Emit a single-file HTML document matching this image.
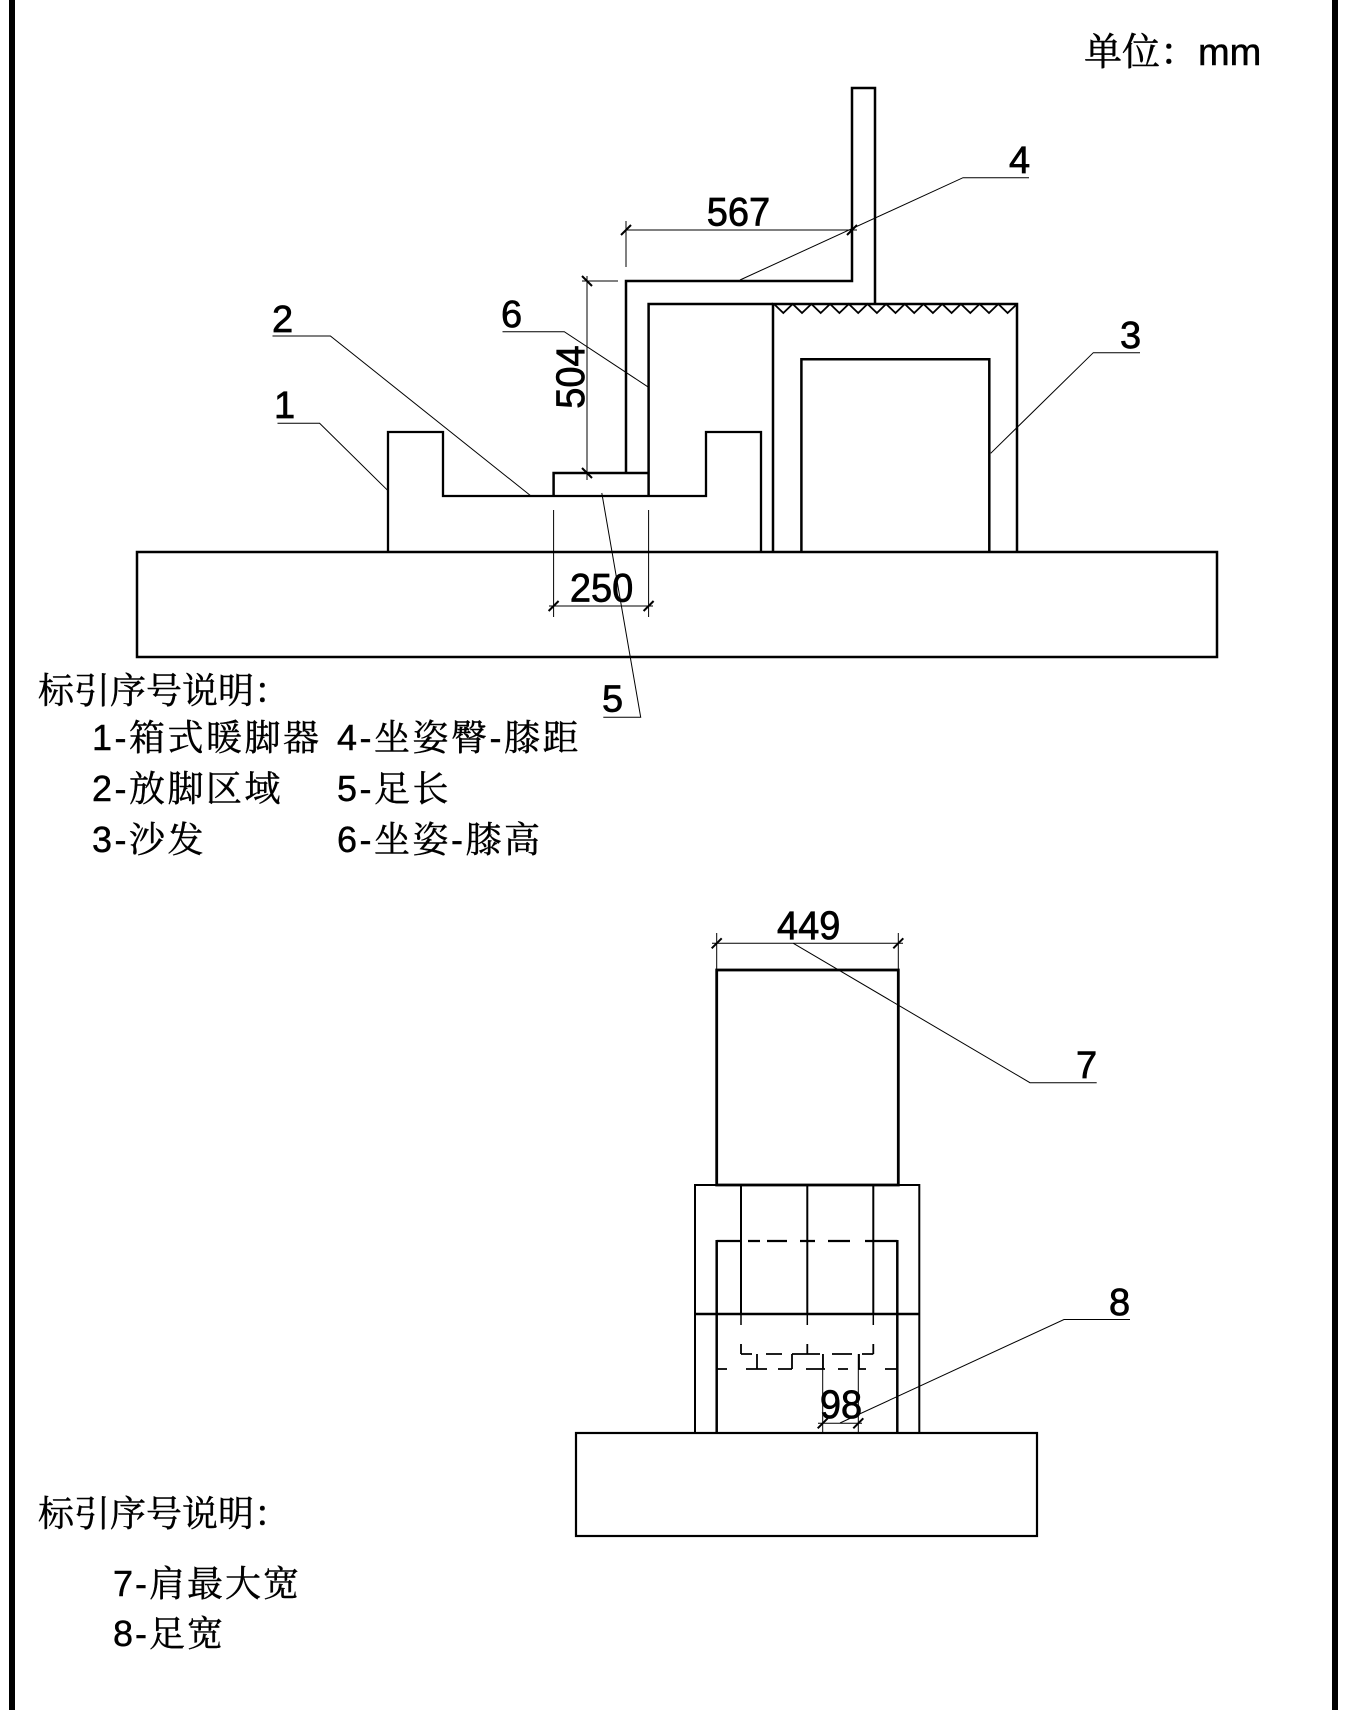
<!DOCTYPE html>
<html>
<head>
<meta charset="utf-8">
<style>
  html,body{margin:0;padding:0;background:#fff;}
  svg{display:block;}
  .num{font-family:"Liberation Sans","Noto Sans CJK SC",sans-serif;font-size:38px;fill:#000;stroke:#000;stroke-width:0.7px;}
  .leg{font-family:"Liberation Sans","Noto Serif CJK SC",serif;font-size:36px;fill:#000;stroke:#000;stroke-width:0.45px;}
</style>
</head>
<body>
<svg width="1349" height="1710" viewBox="0 0 1349 1710" xmlns="http://www.w3.org/2000/svg">
  <!-- page borders -->
  <rect x="9" y="0" width="6" height="1710" fill="#000"/>
  <rect x="1332" y="0" width="6" height="1710" fill="#000"/>

  <!-- unit -->
  <text x="1084" y="65" style="font-family:'Liberation Sans','Noto Serif CJK SC',serif;font-size:38px;stroke:#000;stroke-width:0.5px;">单位：mm</text>

  <g fill="none" stroke="#000" stroke-linejoin="miter" stroke-linecap="butt">
    <!-- ground -->
    <rect x="137" y="552" width="1080" height="105" stroke-width="2.5"/>
    <!-- heater (1) -->
    <path d="M388,552 L388,432 L443,432 L443,496 L706,496 L706,432 L761,432 L761,552" stroke-width="2.3"/>
    <!-- foot (5) -->
    <path d="M553.6,496 L553.6,473 L648.6,473" stroke-width="2.5"/>
    <!-- leg / thigh / back -->
    <path d="M626,473 L626,281 L852,281 L852,88 L875,88 L875,304" stroke-width="2.5"/>
    <path d="M648.6,496 L648.6,304 L773,304" stroke-width="2.5"/>
    <!-- sofa (3) -->
    <path d="M773,552 L773,304 L1017,304 L1017,552" stroke-width="2.5"/>
    <path d="M801.4,552 L801.4,359.3 L989.3,359.3 L989.3,552" stroke-width="2.5"/>
    <path d="M774,304 L783.3,313 L792.7,304 L802,313 L811.4,304 L820.7,313 L830.1,304 L839.4,313 L848.8,304 L858.2,313 L867.5,304 L876.9,313 L886.1,304 L895.5,313 L904.8,304 L914.2,313 L923.5,304 L932.9,313 L942.2,304 L951.6,313 L960.9,304 L970.3,313 L979.6,304 L989,313 L998.3,304 L1007.6,313 L1017,304" stroke-width="1.8"/>

    <!-- dim 567 -->
    <line x1="626" y1="230" x2="857" y2="230" stroke-width="1"/>
    <line x1="626" y1="221" x2="626" y2="267" stroke-width="1"/>
    <line x1="621" y1="235" x2="631" y2="225" stroke-width="2"/>
    <line x1="847" y1="235" x2="857" y2="225" stroke-width="2"/>
    <!-- dim 504 -->
    <line x1="587" y1="276" x2="587" y2="480" stroke-width="1"/>
    <line x1="582" y1="281" x2="618" y2="281" stroke-width="1"/>
    <line x1="582" y1="276" x2="592" y2="286" stroke-width="2"/>
    <line x1="582" y1="468" x2="592" y2="478" stroke-width="2"/>
    <!-- dim 250 -->
    <line x1="549" y1="606" x2="653" y2="606" stroke-width="1"/>
    <line x1="553.6" y1="510" x2="553.6" y2="617" stroke-width="1"/>
    <line x1="648.6" y1="510" x2="648.6" y2="617" stroke-width="1"/>
    <line x1="548.6" y1="611" x2="558.6" y2="601" stroke-width="2"/>
    <line x1="643.6" y1="611" x2="653.6" y2="601" stroke-width="2"/>

    <!-- leaders -->
    <path d="M277.5,423.3 L319.6,423.3 L388,490.7" stroke-width="1"/>
    <path d="M272.5,336 L330.4,336 L531,496" stroke-width="1"/>
    <path d="M502.5,331.7 L564.3,331.7 L648.6,387.3" stroke-width="1"/>
    <path d="M1029,177.7 L963,177.7 L740,280" stroke-width="1"/>
    <path d="M1140,352.7 L1093.3,352.7 L990.7,453.3" stroke-width="1"/>
    <path d="M601.8,493 L640.7,717.3 L603.3,717.3" stroke-width="1"/>

    <!-- ===== lower diagram ===== -->
    <!-- dim 449 -->
    <line x1="712" y1="943.3" x2="903" y2="943.3" stroke-width="1"/>
    <line x1="716.7" y1="933" x2="716.7" y2="970" stroke-width="1"/>
    <line x1="898.3" y1="933" x2="898.3" y2="970" stroke-width="1"/>
    <line x1="711.7" y1="948.3" x2="721.7" y2="938.3" stroke-width="2"/>
    <line x1="893.3" y1="948.3" x2="903.3" y2="938.3" stroke-width="2"/>
    <!-- torso -->
    <rect x="716.7" y="970" width="181.6" height="215" stroke-width="2.8"/>
    <!-- middle (sofa front) -->
    <rect x="695" y="1185" width="224.3" height="248" stroke-width="2"/>
    <line x1="695" y1="1314" x2="919.3" y2="1314" stroke-width="2.5"/>
    <line x1="741" y1="1185" x2="741" y2="1314" stroke-width="2"/>
    <line x1="807.3" y1="1185" x2="807.3" y2="1314" stroke-width="2"/>
    <line x1="873.3" y1="1185" x2="873.3" y2="1314" stroke-width="2"/>
    <!-- legs -->
    <line x1="716.7" y1="1240" x2="716.7" y2="1433" stroke-width="2.5"/>
    <line x1="897.3" y1="1240" x2="897.3" y2="1433" stroke-width="2.5"/>
    <!-- dashed top of legs -->
    <path d="M716.7,1241 L740,1241 M748,1241 L760,1241 M767,1241 L787,1241 M800,1241 L815,1241 M828,1241 L850,1241 M865,1241 L897.3,1241" stroke-width="2.2"/>
    <!-- short dashes under divider -->
    <path d="M741,1314 L741,1325 M807.3,1314 L807.3,1325 M873.3,1314 L873.3,1325" stroke-width="1.5"/>
    <!-- feet dashed -->
    <path d="M741,1344 L741,1354 M807.3,1344 L807.3,1354 M873.3,1344 L873.3,1354" stroke-width="1.8"/>
    <path d="M741,1354 L752,1354 M766,1354 L782,1354 M792,1354 L820,1354 M832,1354 L852,1354 M862,1354 L873.3,1354" stroke-width="1.8"/>
    <path d="M757,1354 L757,1369 M792,1354 L792,1369 M823,1354 L823,1369 M859,1354 L859,1369" stroke-width="1.8"/>
    <path d="M716.7,1369 L727,1369 M746,1369 L767,1369 M778,1369 L792,1369 M806,1369 L825,1369 M838,1369 L848,1369 M858,1369 L866,1369 M885,1369 L897.3,1369" stroke-width="1.8"/>
    <!-- dim 98 -->
    <line x1="822.7" y1="1354" x2="822.7" y2="1433" stroke-width="1"/>
    <line x1="858.3" y1="1354" x2="858.3" y2="1433" stroke-width="1"/>
    <line x1="818" y1="1423.3" x2="862" y2="1423.3" stroke-width="1"/>
    <line x1="817.7" y1="1428.3" x2="827.7" y2="1418.3" stroke-width="2"/>
    <line x1="853.3" y1="1428.3" x2="863.3" y2="1418.3" stroke-width="2"/>
    <!-- base -->
    <rect x="576" y="1433" width="461" height="103" stroke-width="2.2"/>
    <!-- leaders -->
    <path d="M793.3,943.3 L1030,1082.7 L1096.7,1082.7" stroke-width="1"/>
    <path d="M840,1423 L1064,1319.5 L1130,1319.5" stroke-width="1"/>
  </g>

  <!-- dimension text -->
  <text class="num" x="738.5" y="225.7" text-anchor="middle" transform="translate(738.5,225.7) scale(1,1.06) translate(-738.5,-225.7)">567</text>
  <text class="num" x="601.6" y="601.7" text-anchor="middle" transform="translate(601.6,601.7) scale(1,1.06) translate(-601.6,-601.7)">250</text>
  <text class="num" transform="translate(584,377) rotate(-90) scale(1,1.06)" text-anchor="middle">504</text>
  <text class="num" x="808.7" y="939" text-anchor="middle" transform="translate(808.7,939) scale(1,1.06) translate(-808.7,-939)">449</text>
  <text class="num" x="841" y="1418" text-anchor="middle" transform="translate(841,1418) scale(1,1.06) translate(-841,-1418)">98</text>

  <!-- labels -->
  <text class="num" x="274" y="418">1</text>
  <text class="num" x="272" y="332">2</text>
  <text class="num" x="1120" y="348">3</text>
  <text class="num" x="1009" y="173">4</text>
  <text class="num" x="602" y="711.7">5</text>
  <text class="num" x="501" y="327">6</text>
  <text class="num" x="1076" y="1078">7</text>
  <text class="num" x="1109" y="1315">8</text>

  <!-- legends -->
  <text class="leg" x="38" y="703">标引序号说明：</text>
  <text class="leg" x="92" y="750" letter-spacing="2.5">1-箱式暖脚器</text>
  <text class="leg" x="337" y="750" letter-spacing="2.5">4-坐姿臀-膝距</text>
  <text class="leg" x="92" y="801" letter-spacing="2.5">2-放脚区域</text>
  <text class="leg" x="337" y="801" letter-spacing="2.5">5-足长</text>
  <text class="leg" x="92" y="852" letter-spacing="2.5">3-沙发</text>
  <text class="leg" x="337" y="852" letter-spacing="2.5">6-坐姿-膝高</text>

  <text class="leg" x="38" y="1526">标引序号说明：</text>
  <text class="leg" x="113" y="1596" letter-spacing="2">7-肩最大宽</text>
  <text class="leg" x="113" y="1646" letter-spacing="2">8-足宽</text>
</svg>
</body>
</html>
